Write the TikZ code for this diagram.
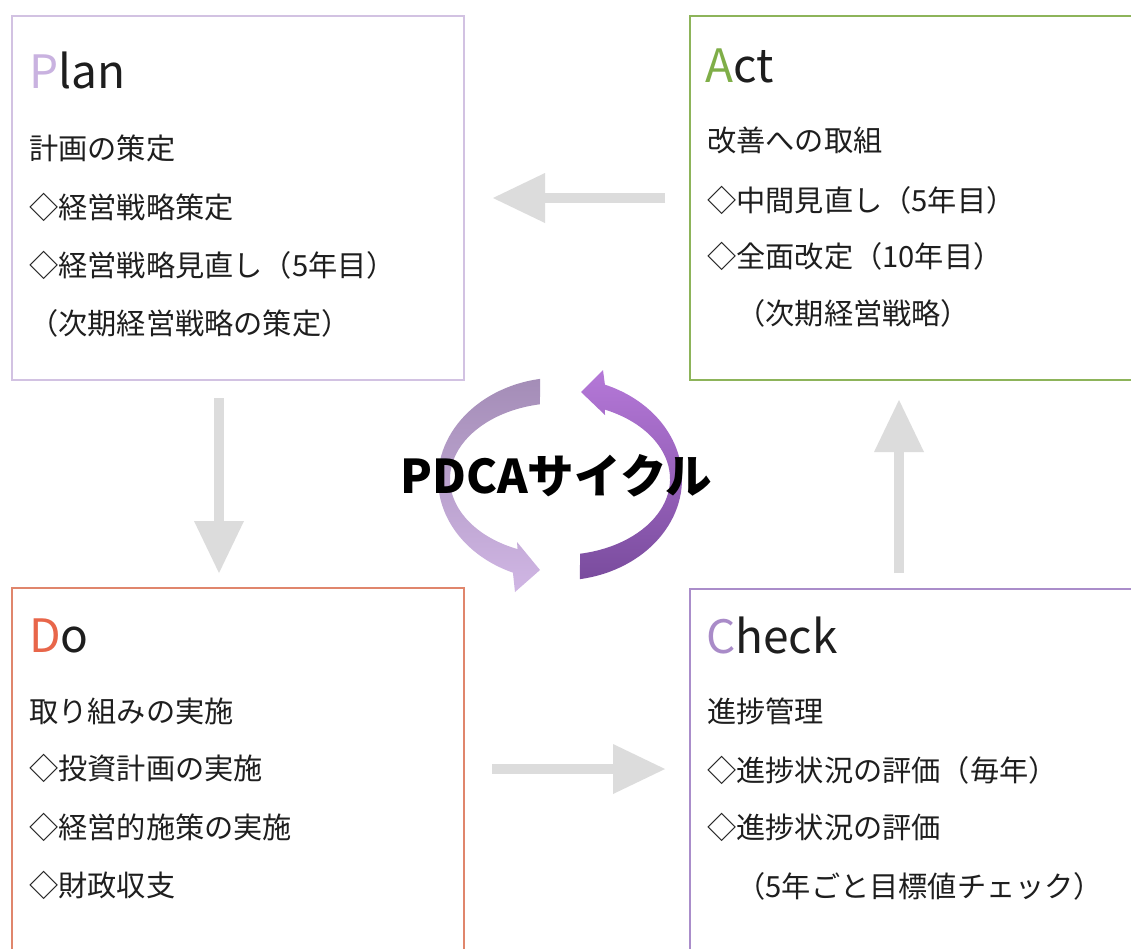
\documentclass[tikz,border=0pt]{standalone}
\usepackage{fontspec}
\setmainfont{Noto Sans CJK JP}
\usetikzlibrary{arrows.meta,calc}
\definecolor{planline}{HTML}{D2C2E2}
\definecolor{planletter}{HTML}{C9B2E0}
\definecolor{actline}{HTML}{8DB45A}
\definecolor{actletter}{HTML}{7FAE48}
\definecolor{doline}{HTML}{E0866C}
\definecolor{doletter}{HTML}{E8664A}
\definecolor{checkline}{HTML}{AA8DCA}
\definecolor{checkletter}{HTML}{A98BC8}
\definecolor{arrowgray}{HTML}{DCDCDC}
\definecolor{textcol}{HTML}{1E1E1E}
\definecolor{lefttop}{HTML}{A48DB7}
\definecolor{leftbot}{HTML}{D0B6E4}
\definecolor{righttop}{HTML}{B578D8}
\definecolor{rightbot}{HTML}{7A4C9E}
\tikzset{
  box/.style={rectangle, line width=2pt, inner sep=0pt, anchor=north west, fill=white},
  ttl/.style={anchor=base west, inner sep=0pt, font=\fontsize{46}{50}\selectfont, text=textcol},
  body/.style={anchor=base west, inner sep=0pt, font=\fontsize{29.2}{32}\selectfont, text=textcol},
  garrow/.style={draw=arrowgray, line width=10pt, -{Triangle[length=52pt,width=50pt,line width=0pt]}},
}
\begin{document}
\begin{tikzpicture}[x=1pt,y=-1pt]
\clip (0,0) rectangle (1131,948);
\fill[white] (0,0) rectangle (1131,948);
% boxes
\node[box, draw=planline, minimum width=452pt, minimum height=364pt] (plan) at (11,15) {};
\node[box, draw=actline, minimum width=460pt, minimum height=364pt] (act) at (689,15) {};
\node[box, draw=doline, minimum width=452pt, minimum height=380pt] (do) at (11,587) {};
\node[box, draw=checkline, minimum width=460pt, minimum height=380pt] (check) at (689,588) {};
% Plan text
\node[ttl] (plant) at (29,88) {\textcolor{planletter}{P}lan};
\node[body] (p1) at (29,159) {計画の策定};
\node[body] (p2) at (29,218) {◇経営戦略策定};
\node[body] (p3) at (29,276) {◇経営戦略見直し（5年目）};
\node[body] (p4) at (29,334) {（次期経営戦略の策定）};
% Act text
\node[ttl] (actt) at (705,82) {\textcolor{actletter}{A}ct};
\node[body] (a1) at (707,151) {改善への取組};
\node[body] (a2) at (707,211) {◇中間見直し（5年目）};
\node[body] (a3) at (707,267) {◇全面改定（10年目）};
\node[body] (a4) at (707,324) {　（次期経営戦略）};
% Do text
\node[ttl] (dot) at (29,652) {\textcolor{doletter}{D}o};
\node[body] (d1) at (29,722) {取り組みの実施};
\node[body] (d2) at (29,779) {◇投資計画の実施};
\node[body] (d3) at (29,838) {◇経営的施策の実施};
\node[body] (d4) at (29,896) {◇財政収支};
% Check text
\node[ttl] (checkt) at (706,653) {\textcolor{checkletter}{C}heck};
\node[body] (c1) at (707,722) {進捗管理};
\node[body] (c2) at (707,781) {◇進捗状況の評価（毎年）};
\node[body] (c3) at (707,838) {◇進捗状況の評価};
\node[body] (c4) at (707,897) {　（5年ごと目標値チェック）};
% gray flow arrows
\coordinate (g1a) at (665,198);
\coordinate (g1b) at (493,198);
\coordinate (g2a) at (219,398);
\coordinate (g2b) at (219,573);
\coordinate (g3a) at (492,769);
\coordinate (g3b) at (665,769);
\coordinate (g4a) at (899,573);
\coordinate (g4b) at (899,400);
\draw[garrow] (g1a) -- (g1b);
\draw[garrow] (g2a) -- (g2b);
\draw[garrow] (g3a) -- (g3b);
\draw[garrow] (g4a) -- (g4b);
% circular arrows
\coordinate (C) at (560,479);
\path[top color=lefttop, bottom color=leftbot]
  (C) ++(260.6:122 and 101.5)
  arc[start angle=260.6, end angle=112.7, x radius=122, y radius=101.5]
  -- (515,592) -- (540,570) -- (517,542)
  -- ($(C)+(112.7:110 and 76)$)
  arc[start angle=112.7, end angle=259.5, x radius=110, y radius=76]
  -- cycle;
\path[top color=righttop, bottom color=rightbot]
  (C) ++(80.6:122 and 101.5)
  arc[start angle=80.6, end angle=-68.4, x radius=122, y radius=101.5]
  -- (603,370) -- (581,392) -- (605,415)
  -- ($(C)+(-65.9:110 and 76)$)
  arc[start angle=-65.9, end angle=79.5, x radius=110, y radius=76]
  -- cycle;
\node[inner sep=0pt, font=\fontsize{46.5}{50}\selectfont\bfseries, text=black] (pdca) at (556,476) {PDCAサイクル};
\end{tikzpicture}
\end{document}
